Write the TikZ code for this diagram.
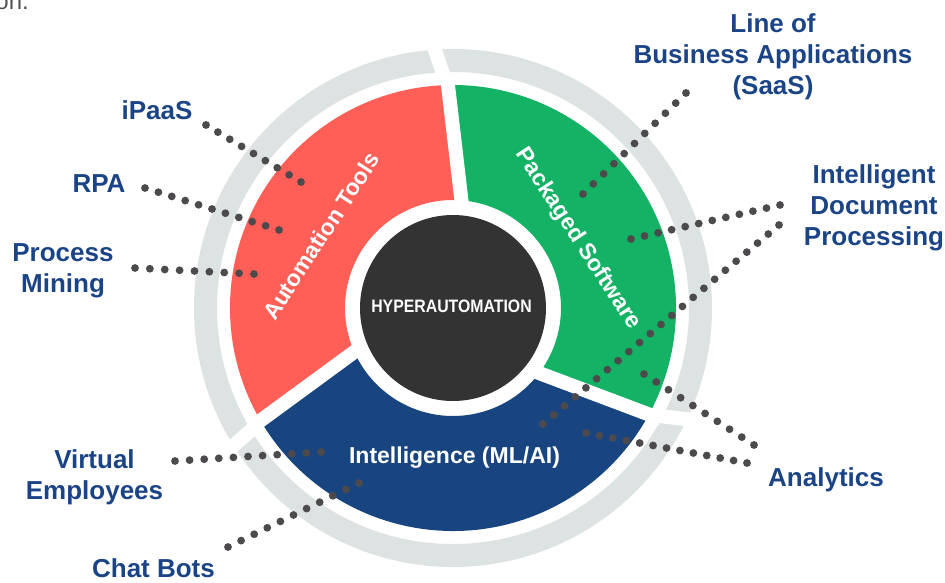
\documentclass[tikz,border=0pt]{standalone}
\usepackage{fontspec}
\setmainfont{Liberation Sans}
\newfontfamily\narrowfont[FakeStretch=0.88]{Liberation Sans}
\usetikzlibrary{calc}
\definecolor{hyred}{RGB}{255,95,86}
\definecolor{hygreen}{RGB}{20,178,100}
\definecolor{hyblue}{RGB}{24,69,128}
\definecolor{hynavy}{RGB}{27,68,135}
\definecolor{hydark}{RGB}{51,51,51}
\definecolor{hygrey}{RGB}{221,227,226}
\definecolor{hydot}{RGB}{77,74,77}
\newcommand\dotrow[3]{%
  \foreach \k in {0,...,#3}{%
    \pgfmathsetmacro\f{\k/#3}
    \fill[hydot] ($(#1)!\f!(#2)$) circle (3.9);}}

\begin{document}
\begin{tikzpicture}[x=1pt, y=1pt,
  lbl/.style={text=hynavy, font=\fontsize{26}{31}\selectfont\bfseries, align=center, inner sep=0pt},
  seg/.style={text=white, font=\fontsize{23}{27}\selectfont\bfseries, inner sep=0pt}]

\useasboundingbox (-453,-274) rectangle (492,308);

\node[text=hydark!85, font=\fontsize{24}{28}\selectfont, anchor=base east, inner sep=0pt] (frag) at (-424,298.5) {on.};

% outer ring
\draw[hygrey, line width=23] (0,0) circle (247.5);
\draw[white, line width=14] (-19.5,262) -- (-9.5,233);
\draw[white, line width=14] (-236,-152) -- (-196.5,-117.5);
\draw[white, line width=14] (198,-107) -- (266,-115);

% the three parts
\fill[hyred] (91.3:223) arc[start angle=91.3, end angle=210.35, radius=223] -- (204.1:108) arc[start angle=204.1, end angle=85.5, radius=108] -- cycle;
\fill[hyblue] (210.35:223) arc[start angle=210.35, end angle=331.5, radius=223] -- (322.94:108) arc[start angle=322.94, end angle=204.1, radius=108] -- cycle;
\fill[hygreen] (-28.5:223) arc[start angle=-28.5, end angle=91.3, radius=223] -- (85.5:108) arc[start angle=85.5, end angle=-37.06, radius=108] -- cycle;
\draw[white, line width=14] (-6.2,233) -- (9.7,97);
\draw[white, line width=14] (-200.5,-118.5) -- (-92,-39);
\draw[white, line width=14] (208,-111) -- (78,-62);

% hub
\fill[hydark] (0,0) circle (93);
\node[text=white, font=\narrowfont\fontsize{18}{20}\selectfont\bfseries, inner sep=0pt] (hub) at (-1.5,1.5) {HYPERAUTOMATION};

\node[seg, rotate=57] (autotools) at (-132,72) {Automation Tools};
\node[seg, rotate=-57] (pkgsw) at (125,69) {Packaged Software};
\node[seg, anchor=base] (intel) at (1.5,-155) {Intelligence (ML/AI)};

% labels
\node[lbl] (lob) at (320,251) {Line of\\Business Applications\\(SaaS)};
\node[lbl] (ipaas) at (-296,197.5) {iPaaS};
\node[lbl] (rpa) at (-354,124) {RPA};
\node[lbl] (pm) at (-390,37) {Process\\Mining};
\node[lbl] (idp) at (421,100) {Intelligent\\Document\\Processing};
\node[lbl] (ana) at (373,-171.5) {Analytics};
\node[lbl] (ve) at (-358.5,-169) {Virtual\\Employees};
\node[lbl] (cb) at (-299.5,-260.5) {Chat Bots};

% dotted leaders
\coordinate (ipaasA) at (-247,183);  \coordinate (ipaasB) at (-152,126);
\coordinate (rpaA) at (-308,120);    \coordinate (rpaB) at (-174,78);
\coordinate (pmA) at (-318,40);      \coordinate (pmB) at (-199,34);
\coordinate (lobA) at (233,215);     \coordinate (lobB) at (130,114);
\coordinate (idpA) at (327,103);     \coordinate (idpB) at (178,69);
\coordinate (idpC) at (326,83);      \coordinate (idpD) at (90,-116);
\coordinate (anaA) at (301,-137);    \coordinate (anaB) at (191,-66);
\coordinate (anaC) at (294,-155);    \coordinate (anaD) at (133,-125);
\coordinate (veA) at (-278,-153);    \coordinate (veB) at (-132,-144);
\coordinate (cbA) at (-225,-239);    \coordinate (cbB) at (-94,-175);

\dotrow{ipaasA}{ipaasB}{8}
\dotrow{rpaA}{rpaB}{10}
\dotrow{pmA}{pmB}{8}
\dotrow{lobA}{lobB}{10}
\dotrow{idpA}{idpB}{11}
\dotrow{idpC}{idpD}{22}
\dotrow{anaA}{anaB}{9}
\dotrow{anaC}{anaD}{12}
\dotrow{veA}{veB}{10}
\dotrow{cbA}{cbB}{10}

\end{tikzpicture}
\end{document}
